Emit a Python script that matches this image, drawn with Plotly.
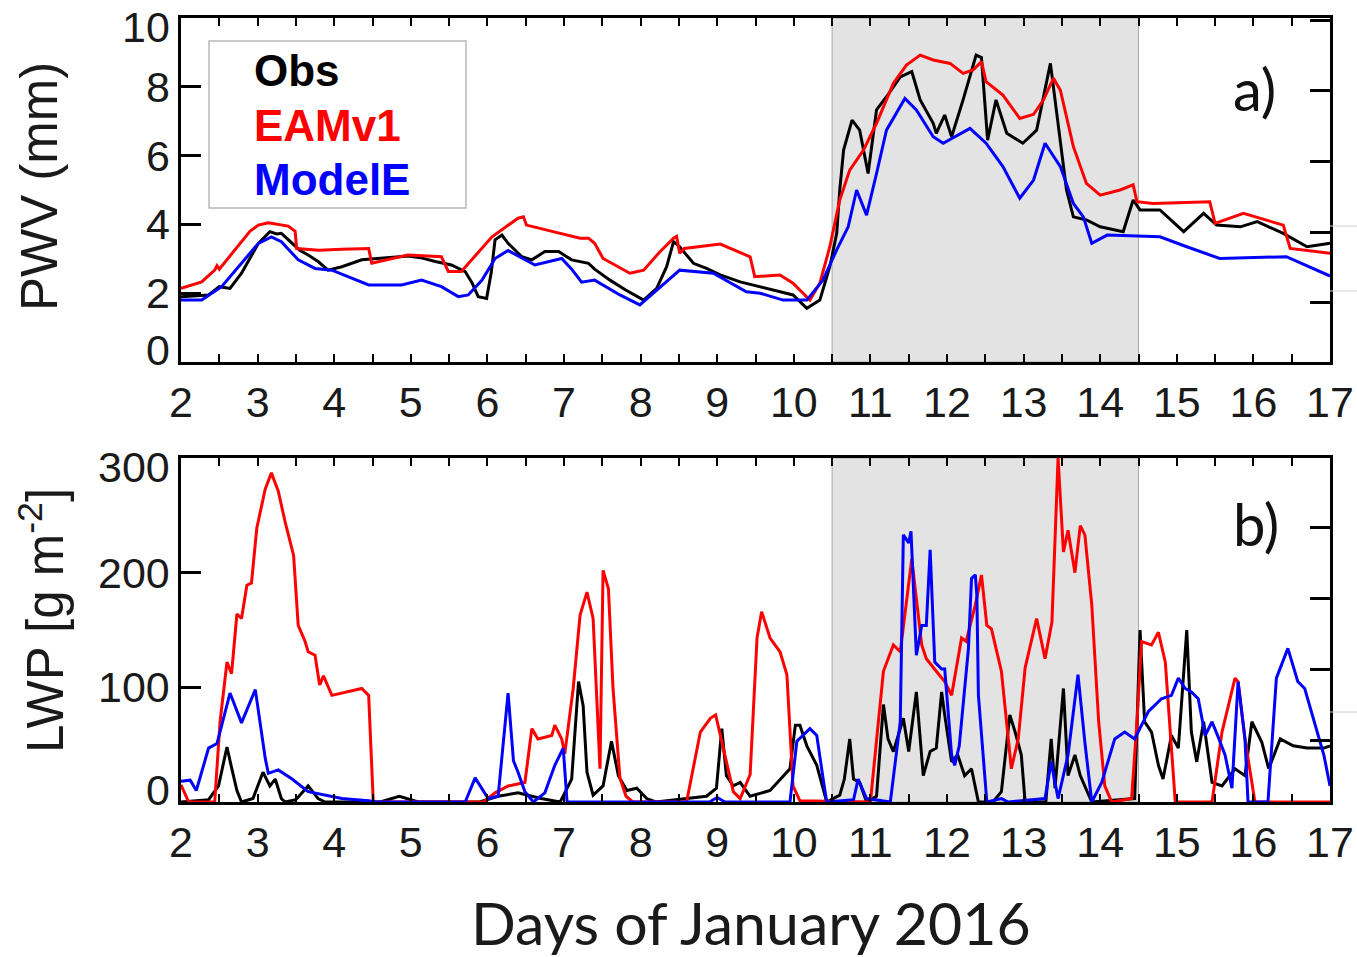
import plotly.graph_objects as go

# ---------------- data: PWV (mm) ----------------
obs_pwv_day = [2.00, 2.20, 2.36, 2.50, 2.64, 2.79, 2.90, 3.01, 3.16, 3.25, 3.31, 3.45, 3.55, 3.66, 3.79, 3.92,
               4.10, 4.36, 4.60, 4.97, 5.15, 5.32, 5.53, 5.71, 5.80, 5.88, 5.99, 6.05, 6.10, 6.19, 6.27, 6.45,
               6.58, 6.75, 6.93, 7.10, 7.32, 7.40, 7.60, 7.80, 8.04, 8.21, 8.34, 8.43, 8.51, 8.69, 8.86, 9.04,
               9.30, 9.50, 9.73, 9.99, 10.17, 10.34, 10.47, 10.56, 10.60, 10.65, 10.76, 10.86, 10.97, 11.08,
               11.21, 11.39, 11.54, 11.65, 11.82, 11.86, 11.97, 12.06, 12.21, 12.38, 12.45, 12.53, 12.64, 12.78,
               12.99, 13.17, 13.35, 13.43, 13.56, 13.65, 13.82, 14.00, 14.17, 14.30, 14.43, 14.52, 14.78, 15.09,
               15.35, 15.52, 15.83, 16.05, 16.39, 16.70, 16.85, 17.00]
obs_pwv = [1.90, 1.92, 1.95, 2.19, 2.14, 2.58, 3.00, 3.45, 3.79, 3.72, 3.74, 3.45, 3.25, 3.11, 2.92, 2.67,
           2.77, 2.97, 3.02, 3.08, 3.02, 2.92, 2.82, 2.63, 2.30, 1.90, 1.85, 2.60, 3.55, 3.69, 3.45, 3.06,
           2.97, 3.21, 3.21, 2.97, 2.87, 2.70, 2.38, 2.10, 1.80, 2.14, 2.77, 3.50, 3.35, 2.87, 2.72, 2.53,
           2.33, 2.22, 2.09, 1.95, 1.56, 1.80, 2.77, 3.74, 5.00, 6.16, 7.03, 6.74, 5.48, 7.33,
           7.71, 8.29, 8.44, 7.62, 6.94, 6.65, 7.18, 6.55, 7.62, 8.92, 8.85, 6.45, 7.62, 6.65,
           6.36, 6.74, 8.68, 7.23, 5.00, 4.22, 4.13, 3.93, 3.84, 3.79, 4.71, 4.42, 4.42, 3.79,
           4.32, 3.98, 3.93, 4.08, 3.74, 3.35, 3.40, 3.45]

eam_pwv_day = [2.00, 2.27, 2.44, 2.47, 2.50, 2.70, 2.90, 3.01, 3.14, 3.40, 3.49, 3.51, 3.80, 4.10, 4.45, 4.49,
               4.96, 5.40, 5.49, 5.66, 6.06, 6.40, 6.47, 6.51, 6.93, 7.21, 7.32, 7.40, 7.51, 7.86, 8.04, 8.25,
               8.43, 8.47, 8.51, 8.57, 9.04, 9.17, 9.43, 9.49, 9.82, 9.99, 10.21, 10.34, 10.47, 10.60, 10.73,
               10.91, 11.08, 11.30, 11.47, 11.65, 11.82, 12.04, 12.21, 12.34, 12.45, 12.51, 12.73, 12.95, 13.13,
               13.26, 13.39, 13.48, 13.65, 13.82, 14.00, 14.26, 14.43, 14.48, 14.69, 15.43, 15.50, 15.87, 16.39,
               16.48, 16.96, 17.00]
eam_pwv = [2.14, 2.33, 2.67, 2.80, 2.70, 3.26, 3.80, 3.98, 4.05, 3.95, 3.80, 3.30, 3.25, 3.28, 3.30, 2.87,
           3.11, 3.06, 2.63, 2.63, 3.64, 4.18, 4.22, 3.98, 3.74, 3.60, 3.60, 3.45, 3.01, 2.58, 2.67, 3.20,
           3.60, 3.65, 3.16, 3.30, 3.43, 3.30, 3.06, 2.48, 2.53, 2.29, 1.80, 2.29, 3.35, 4.71, 5.58,
           6.16, 6.94, 8.10, 8.63, 8.92, 8.78, 8.68, 8.39, 8.49, 8.73, 8.15, 7.76, 7.08, 7.20,
           7.62, 8.25, 7.90, 6.26, 5.19, 4.85, 5.00, 5.15, 4.66, 4.61, 4.66, 4.03, 4.32, 3.98,
           3.30, 3.16, 3.16]

mde_pwv_day = [2.00, 2.27, 2.53, 2.79, 3.01, 3.18, 3.31, 3.53, 3.75, 3.97, 4.45, 4.88, 5.14, 5.40, 5.62, 5.75,
               5.93, 6.10, 6.27, 6.62, 6.97, 7.10, 7.23, 7.40, 7.73, 7.99, 8.51, 8.95, 9.38, 9.56, 9.86, 10.17,
               10.38, 10.56, 10.71, 10.82, 10.95, 11.08, 11.21, 11.45, 11.60, 11.82, 11.95, 12.30, 12.51, 12.73,
               12.95, 13.13, 13.28, 13.48, 13.65, 13.78, 13.89, 14.09, 14.78, 15.13, 15.56, 16.43, 16.96, 17.00]
mde_pwv = [1.80, 1.80, 2.19, 2.87, 3.45, 3.64, 3.50, 2.97, 2.72, 2.67, 2.24, 2.24, 2.38, 2.19, 1.90, 1.95,
           2.38, 3.01, 3.24, 2.82, 3.01, 2.70, 2.32, 2.38, 1.95, 1.66, 2.67, 2.58, 2.04, 2.00, 1.80, 1.80,
           2.38, 3.26, 3.93, 5.00, 4.27, 5.48, 6.74, 7.66, 7.33, 6.55, 6.36, 6.79, 6.36, 5.68,
           4.76, 5.29, 6.36, 5.68, 4.61, 4.22, 3.45, 3.69, 3.64, 3.35, 3.01, 3.06, 2.53, 2.50]

# ---------------- data: LWP (g m-2) ----------------
obs_lwp_day = [2.00, 2.36, 2.49, 2.60, 2.66, 2.73, 2.79, 2.94, 3.07, 3.16, 3.23, 3.31, 3.36, 3.50, 3.66, 3.79,
               3.88, 4.60, 4.85, 5.10, 5.90, 6.14, 6.40, 6.70, 6.95, 7.10, 7.19, 7.25, 7.30, 7.38, 7.51, 7.62,
               7.71, 7.82, 7.95, 8.08, 8.20, 8.86, 8.99, 9.06, 9.12, 9.21, 9.30, 9.43, 9.69, 9.86, 9.95, 10.02,
               10.08, 10.17, 10.30, 10.43, 10.60, 10.66, 10.73, 10.78, 10.86, 10.95, 11.08, 11.17, 11.23, 11.30,
               11.43, 11.50, 11.60, 11.69, 11.78, 11.86, 11.93, 11.97, 12.06, 12.14, 12.23, 12.32, 12.41, 12.60,
               12.71, 12.82, 12.89, 12.97, 13.02, 13.29, 13.36, 13.41, 13.52, 13.58, 13.67, 13.74, 13.89, 14.45,
               14.52, 14.58, 14.67, 14.76, 14.82, 14.93, 15.02, 15.13, 15.19, 15.26, 15.35, 15.41, 15.46, 15.59,
               15.76, 15.89, 15.98, 16.11, 16.20, 16.35, 16.52, 16.70, 16.92, 17.00]
obs_lwp = [0, 2, 14, 48, 30, 10, 0, 3, 26, 14, 20, 3, 0, 2, 14, 3,
           0, 0, 5, 0, 0, 5, 8, 3, 0, 20, 105, 84, 26, 6, 14, 53,
           23, 10, 12, 3, 0, 5, 12, 64, 23, 14, 17, 5, 10, 23, 29, 67,
           67, 49, 32, 0, 6, 20, 55, 20, 17, 0, 5, 85, 55, 44,
           73, 44, 96, 23, 44, 47, 96, 76, 35, 41, 23, 29, 0, 0,
           9, 76, 61, 41, 0, 0, 55, 12, 99, 23, 41, 23, 0, 3,
           150, 70, 61, 32, 20, 58, 47, 150, 61, 35, 70, 41, 17, 14,
           29, 23, 70, 52, 29, 55, 49, 47, 47, 49]

eam_lwp_day = [2.00, 2.10, 2.44, 2.51, 2.60, 2.66, 2.73, 2.79, 2.86, 2.92, 2.99, 3.10, 3.18, 3.27, 3.36, 3.47,
               3.53, 3.62, 3.66, 3.75, 3.81, 3.86, 3.97, 4.18, 4.36, 4.45, 4.51, 5.95, 6.10, 6.27, 6.49, 6.58,
               6.66, 6.84, 6.88, 6.97, 7.01, 7.12, 7.21, 7.30, 7.38, 7.47, 7.51, 7.58, 7.64, 7.73, 7.81, 7.90,
               8.60, 8.78, 8.91, 8.98, 9.08, 9.21, 9.30, 9.43, 9.52, 9.58, 9.69, 9.82, 9.91, 9.99, 10.08, 11.00,
               11.17, 11.30, 11.39, 11.54, 11.67, 11.73, 11.86, 11.97, 12.06, 12.19, 12.25, 12.37, 12.45, 12.52,
               12.58, 12.71, 12.84, 12.93, 13.02, 13.17, 13.28, 13.37, 13.45, 13.52, 13.58, 13.67, 13.74, 13.80,
               13.89, 13.98, 14.06, 14.15, 14.41, 14.48, 14.54, 14.67, 14.76, 14.85, 14.98, 15.46, 15.59, 15.76,
               15.80, 15.89, 16.02, 17.00]
eam_lwp = [15, 0, 0, 70, 122, 112, 164, 160, 189, 191, 239, 273, 287, 271, 244, 215,
           154, 140, 131, 128, 102, 110, 93, 96, 99, 93, 0, 0, 8, 14, 17, 64,
           55, 58, 67, 55, 42, 99, 163, 183, 160, 29, 202, 186, 99, 21, 5, 0,
           0, 61, 73, 76, 47, 9, 3, 24, 143, 166, 143, 131, 111, 14, 1, 0,
           114, 137, 131, 212, 137, 125, 114, 105, 93, 143, 140, 172, 198, 154,
           151, 114, 29, 55, 117, 160, 125, 157, 300, 218, 237, 200, 241, 233,
           172, 70, 14, 0, 3, 70, 140, 137, 148, 122, 0, 0, 61, 108,
           105, 55, 0, 0]

mde_lwp_day = [2.00, 2.12, 2.20, 2.36, 2.47, 2.64, 2.79, 2.97, 3.10, 3.14, 3.27, 3.45, 3.66, 3.88, 4.10, 4.45,
               4.55, 5.71, 5.84, 6.01, 6.14, 6.27, 6.34, 6.40, 6.49, 6.60, 6.75, 6.88, 6.99, 7.04, 8.90, 9.00,
               9.10, 9.95, 10.04, 10.21, 10.30, 10.39, 10.43, 10.78, 10.84, 10.95, 11.26, 11.39, 11.43, 11.50,
               11.53, 11.60, 11.67, 11.73, 11.78, 11.84, 11.93, 11.97, 12.06, 12.10, 12.16, 12.28, 12.32, 12.37,
               12.39, 12.41, 12.45, 12.52, 12.71, 12.80, 13.28, 13.36, 13.45, 13.58, 13.71, 13.80, 13.89, 14.02,
               14.19, 14.32, 14.45, 14.63, 14.80, 14.93, 15.02, 15.11, 15.19, 15.28, 15.37, 15.46, 15.55, 15.63,
               15.72, 15.80, 15.89, 15.93, 16.19, 16.30, 16.45, 16.58, 16.67, 16.80, 16.92, 17.00]
mde_lwp = [18, 19, 10, 47, 51, 95, 69, 98, 38, 25, 28, 20, 9, 6, 3, 1,
           0, 0, 21, 3, 5, 95, 36, 26, 9, 0, 8, 32, 47, 0, 0, 4,
           0, 0, 53, 64, 58, 17, 0, 2, 20, 3, 0, 70, 233, 226,
           236, 128, 154, 154, 220, 122, 116, 116, 41, 32, 49, 134, 195, 198,
           180, 93, 61, 0, 3, 0, 3, 35, 3, 41, 111, 52, 0, 17,
           55, 61, 55, 79, 90, 93, 108, 99, 96, 90, 58, 70, 55, 41,
           12, 105, 55, 0, 0, 108, 134, 105, 99, 70, 41, 14]

# ---------------- styling constants ----------------
day_ticks = list(range(2, 18))
pwv_ticks = [0, 2, 4, 6, 8, 10]
lwp_ticks = [0, 100, 200, 300]
event_start, event_end = 10.5, 14.5
C_OBS, C_EAM, C_MDE = "#000000", "#ff0000", "#0000ff"
LW = 3
TICKFONT = dict(family="Liberation Sans, Arial, sans-serif", size=43, color="#1a1a1a")

fig = go.Figure()

for xa, ya, series in [
    ("x", "y", [(obs_pwv_day, obs_pwv, C_OBS), (eam_pwv_day, eam_pwv, C_EAM), (mde_pwv_day, mde_pwv, C_MDE)]),
    ("x2", "y2", [(obs_lwp_day, obs_lwp, C_OBS), (eam_lwp_day, eam_lwp, C_EAM), (mde_lwp_day, mde_lwp, C_MDE)]),
]:
    for xs, ys, c in series:
        fig.add_trace(go.Scatter(x=xs, y=ys, mode="lines", line=dict(color=c, width=LW),
                                 xaxis=xa, yaxis=ya, showlegend=False, hoverinfo="skip"))

# placeholder traces to realise the right-hand tick axes (outside their ranges)
fig.add_trace(go.Scatter(x=[2], y=[-99], mode="lines", xaxis="x", yaxis="y3", showlegend=False, hoverinfo="skip"))
fig.add_trace(go.Scatter(x=[2], y=[-99], mode="lines", xaxis="x2", yaxis="y4", showlegend=False, hoverinfo="skip"))

top_dom = [0.5612, 1.0]
bot_dom = [0.0, 0.4388]

xcommon = dict(range=[2, 17], tickvals=day_ticks, ticks="inside", ticklen=8, tickwidth=2,
               tickcolor="black", showline=True, linecolor="black", linewidth=3, mirror="ticks",
               showgrid=False, zeroline=False, tickfont=TICKFONT, ticklabelstandoff=0, automargin=False,
               ticklabeloverflow="allow",
               minor=dict(dtick=0.5, tick0=2, ticks="inside", ticklen=8, tickwidth=2, tickcolor="black",
                          showgrid=False))
ycommon = dict(ticks="inside", ticklen=20, tickwidth=2.5, tickcolor="black", showline=True,
               linecolor="black", linewidth=3, mirror=True, showgrid=False, zeroline=False,
               showticklabels=False, automargin=False)

fig.update_layout(
    width=1357, height=957,
    margin=dict(l=181, r=27, t=18, b=155, autoexpand=False),
    paper_bgcolor="white", plot_bgcolor="white",
    xaxis=dict(anchor="y", domain=[0, 1], **xcommon),
    xaxis2=dict(anchor="y2", domain=[0, 1], **xcommon),
    yaxis=dict(anchor="x", domain=top_dom, range=[0, 10], tickvals=pwv_ticks, **ycommon),
    yaxis2=dict(anchor="x2", domain=bot_dom, range=[0, 300], tickvals=lwp_ticks, **ycommon),
    yaxis3=dict(overlaying="y", anchor="x", side="right", range=[0.33, 10.06], dtick=2, tick0=0,
                ticks="inside", ticklen=20, tickwidth=2.5, tickcolor="black", showticklabels=False,
                showline=False, showgrid=False, zeroline=False, automargin=False),
    yaxis4=dict(overlaying="y2", anchor="x2", side="right", range=[0.123, 4.989], dtick=1, tick0=0,
                ticks="inside", ticklen=20, tickwidth=2.5, tickcolor="black", showticklabels=False,
                showline=False, showgrid=False, zeroline=False, automargin=False),
)

# y tick labels (end labels nudged inward as in the original)
for yref, vals in [("y", pwv_ticks), ("y2", lwp_ticks)]:
    for i, v in enumerate(vals):
        shift = 0
        if i == 0:
            shift = 12
        elif i == len(vals) - 1:
            shift = -9
        fig.add_annotation(xref="paper", yref=yref, x=-9 / 1149, y=v, yshift=shift,
                           xanchor="right", yanchor="middle", showarrow=False, text=str(v),
                           font=TICKFONT)

# shaded event period
for xr, yr in [("x", "y domain"), ("x2", "y2 domain")]:
    fig.add_shape(type="rect", xref=xr, yref=yr, x0=event_start, x1=event_end, y0=0, y1=1,
                  fillcolor="#e3e3e3", line=dict(color="#a8a8a8", width=1), layer="below")

# faint stray lines at the right edge
for yp in [(802 - 226) / 784, (802 - 291) / 784, (802 - 712) / 784]:
    fig.add_shape(type="line", xref="paper", yref="paper", x0=1.0, x1=1.03, y0=yp, y1=yp,
                  line=dict(color="#d0d0d0", width=1))

# legend box
fig.add_shape(type="rect", xref="paper", yref="paper", x0=0.0244, x1=0.2480, y0=0.7577, y1=0.9707,
              line=dict(color="#b8b8b8", width=1.5), fillcolor="white")
LEGFONT = "Liberation Sans, Arial, sans-serif"
for name, col, py in [("Obs", C_OBS, 70), ("EAMv1", C_EAM, 125), ("ModelE", C_MDE, 180)]:
    fig.add_annotation(xref="paper", yref="paper", x=(252 - 181) / 1149, y=(802 - py) / 784,
                       xanchor="left", yanchor="middle", showarrow=False,
                       text=f"<b>{name}</b>", font=dict(family=LEGFONT, size=44, color=col))

# panel labels
for lab, xp, yp in [("a)", 1254, 88), ("b)", 1256, 523)]:
    fig.add_annotation(xref="paper", yref="paper", x=(xp - 181) / 1149, y=(802 - yp) / 784,
                       xanchor="center", yanchor="middle", showarrow=False, text=lab,
                       font=dict(family="Lato, sans-serif", size=58, color="#111111"))

# axis titles
fig.add_annotation(xref="paper", yref="paper", x=(40 - 181) / 1149, y=(802 - 187) / 784,
                   xanchor="center", yanchor="middle", showarrow=False, textangle=-90,
                   text="PWV (mm)", font=dict(family=LEGFONT, size=51, color="#1a1a1a"))
fig.add_annotation(xref="paper", yref="paper", x=(42 - 181) / 1149, y=(802 - 621) / 784,
                   xanchor="center", yanchor="middle", showarrow=False, textangle=-90,
                   text="LWP [g m<sup>-2</sup>]", font=dict(family=LEGFONT, size=51, color="#1a1a1a"))
fig.add_annotation(xref="paper", yref="paper", x=(751 - 181) / 1149, y=(802 - 922) / 784,
                   xanchor="center", yanchor="middle", showarrow=False,
                   text="Days of January 2016", font=dict(family="Lato, sans-serif", size=59, color="#1a1a1a"))

fig.write_html("out.html", config={"displayModeBar": False},
               post_script="document.body.style.margin='0';document.body.style.overflow='hidden';")
